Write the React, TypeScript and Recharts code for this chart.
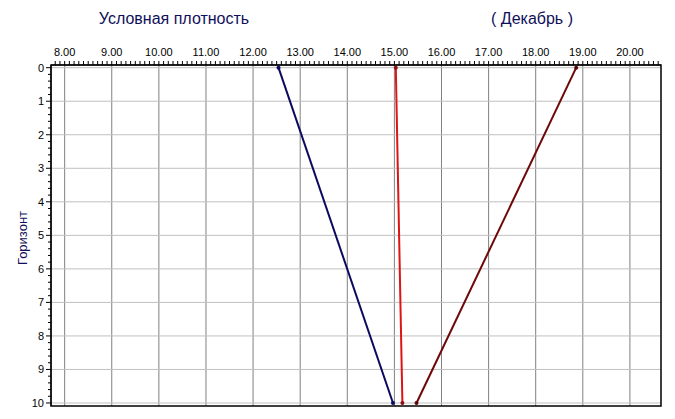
import React from 'react';
import {
    ScatterChart,
    Scatter,
    XAxis,
    YAxis,
    CartesianGrid,
    ReferenceArea
} from 'recharts';

// horizons (depth index) and the three density profiles
const horizons = [0, 10];
const seriesBlue = [12.54, 14.97];
const seriesRed = [15.03, 15.17];
const seriesBrown = [18.86, 15.47];

const majorX = [8, 9, 10, 11, 12, 13, 14, 15, 16, 17, 18, 19, 20];
const majorY = [0, 1, 2, 3, 4, 5, 6, 7, 8, 9, 10];
const minorX = Array.from({ length: 129 }, (_, i) => Number((7.8 + i * 0.1).toFixed(1)));
const minorY = Array.from({ length: 51 }, (_, i) => Number((i * 0.2).toFixed(1)));

const X_DOMAIN: [number, number] = [7.71, 20.66];
const Y_DOMAIN: [number, number] = [-0.08, 10.09];

const toPoints = (vals: number[]) => horizons.map((h, i) => ({ x: vals[i], h }));

const W = 675;
const H = 419;
const TOP = 65;
const LEFT = 51;
const FONT = '"Liberation Sans", Arial, sans-serif';

const TopTick = (props: any) => {
    const { x, payload } = props;
    const v = payload.value;
    const isMajor = Math.abs(v - Math.round(v)) < 1e-6;
    return (
        <g>
            <line x1={x} x2={x} y1={TOP - 4} y2={TOP} stroke="#000" />
            {isMajor && (
                <text x={x} y={TOP - 9} textAnchor="middle" fontSize={11} fontFamily={FONT} fill="#000">
                    {v.toFixed(2)}
                </text>
            )}
        </g>
    );
};

const LeftTick = (props: any) => {
    const { y, payload } = props;
    const v = payload.value;
    const isMajor = Math.abs(v - Math.round(v)) < 1e-6;
    return (
        <g>
            <line x1={LEFT - (isMajor ? 5 : 3)} x2={LEFT} y1={y} y2={y} stroke="#000" />
            {isMajor && (
                <text x={LEFT - 7} y={y + 4} textAnchor="end" fontSize={11} fontFamily={FONT} fill="#000">
                    {v}
                </text>
            )}
        </g>
    );
};

const dotShape = (color: string) => (props: any) => (
    <circle cx={props.cx} cy={props.cy} r={2} fill={color} />
);

export default function App() {
    return (
        <div style={{ position: 'absolute', left: 0, top: 0, width: W, height: H, background: '#fff', fontFamily: FONT }}>
            <div style={{ position: 'absolute', left: 174, top: 10, transform: 'translateX(-50%)', fontSize: 16, color: '#10105a', whiteSpace: 'nowrap' }}>
                Условная плотность
            </div>
            <div style={{ position: 'absolute', left: 532, top: 10, transform: 'translateX(-50%)', fontSize: 16, color: '#10105a', whiteSpace: 'nowrap' }}>
                ( Декабрь )
            </div>
            <div style={{ position: 'absolute', left: 22, top: 238, transform: 'translate(-50%, -50%) rotate(-90deg)', fontSize: 13, color: '#10105a', whiteSpace: 'nowrap' }}>
                Горизонт
            </div>
            <ScatterChart
                width={W}
                height={H}
                margin={{ top: TOP - 25, left: LEFT - 30, right: 14, bottom: 13 }}
                style={{ position: 'absolute', left: 0, top: 0 }}
            >
                <CartesianGrid horizontal={false} verticalValues={majorX} stroke="#808080" />
                <CartesianGrid vertical={false} horizontalValues={majorY} stroke="#c0c0c0" />
                <XAxis
                    type="number"
                    dataKey="x"
                    orientation="top"
                    domain={X_DOMAIN}
                    ticks={minorX}
                    interval={0}
                    height={25}
                    tickLine={false}
                    tick={<TopTick />}
                    axisLine={{ stroke: '#000' }}
                    allowDataOverflow
                />
                <YAxis
                    type="number"
                    dataKey="h"
                    domain={Y_DOMAIN}
                    reversed
                    ticks={minorY}
                    interval={0}
                    width={30}
                    tickLine={false}
                    tick={<LeftTick />}
                    axisLine={{ stroke: '#000' }}
                    allowDataOverflow
                />
                <ReferenceArea
                    x1={X_DOMAIN[0]}
                    x2={X_DOMAIN[1]}
                    y1={Y_DOMAIN[0]}
                    y2={Y_DOMAIN[1]}
                    fill="none"
                    fillOpacity={0}
                    stroke="#000"
                    strokeWidth={1.5}
                />
                <Scatter
                    data={toPoints(seriesBlue)}
                    line={{ stroke: '#0a0a5e', strokeWidth: 2 }}
                    shape={dotShape('#0a0a5e')}
                    isAnimationActive={false}
                />
                <Scatter
                    data={toPoints(seriesRed)}
                    line={{ stroke: '#dd1515', strokeWidth: 2 }}
                    shape={dotShape('#8a1010')}
                    isAnimationActive={false}
                />
                <Scatter
                    data={toPoints(seriesBrown)}
                    line={{ stroke: '#6e0808', strokeWidth: 2 }}
                    shape={dotShape('#5a0505')}
                    isAnimationActive={false}
                />
            </ScatterChart>
        </div>
    );
}
